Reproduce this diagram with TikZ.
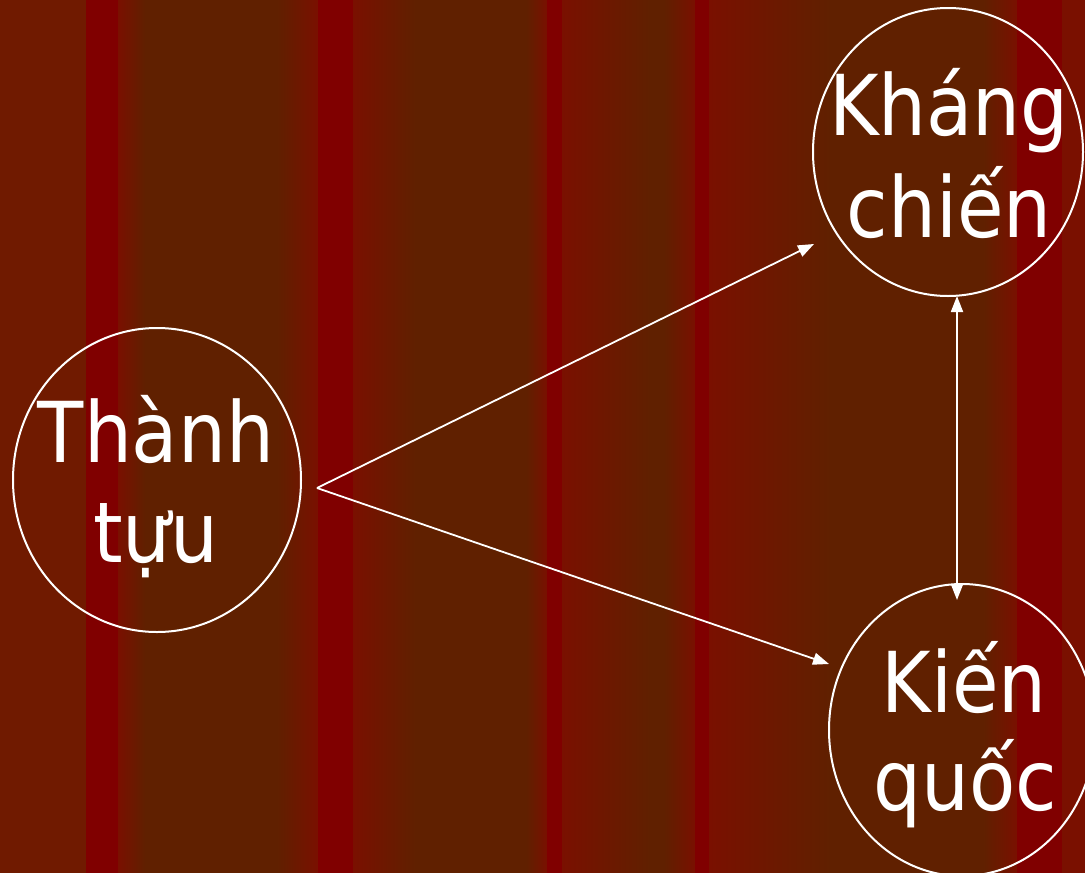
\documentclass[tikz,border=0pt]{standalone}
\usepackage{fontspec}
\setmainfont{DejaVu Sans Condensed}
\usetikzlibrary{arrows.meta,shapes.geometric}
\definecolor{rd}{RGB}{128,0,0}
\definecolor{br}{RGB}{96,32,0}
\definecolor{md}{RGB}{112,26,0}
\definecolor{rm}{RGB}{122,16,0}
\begin{document}
\begin{tikzpicture}[x=1pt,y=-1pt,
  bubble/.style={ellipse, draw=white, line width=2pt, inner sep=0pt},
  lbl/.style={text=white, font=\fontsize{84}{100}\selectfont, inner sep=0pt, anchor=base},
  link/.style={draw=white, line width=1.8pt, -{Triangle[length=16pt,width=12pt]}},
  dlink/.style={draw=white, line width=1.8pt, {Triangle[length=16pt,width=12pt]}-{Triangle[length=16pt,width=12pt]}}]
\useasboundingbox (0,0) rectangle (1085,873);
\clip (0,0) rectangle (1085,873);
% background stripes
\fill[br] (0,0) rectangle (1085,873);
\fill[md] (0,0) rectangle (86,873);
\fill[rd] (86,0) rectangle (118,873);
\shade[left color=rm,right color=br] (118,0) rectangle (145.5,873);
\shade[left color=br,right color=rm] (277,0) rectangle (318.5,873);
\fill[rd] (318,0) rectangle (353,873);
\shade[left color=rm,right color=br] (353,0) rectangle (415.5,873);
\shade[left color=br,right color=rm] (526,0) rectangle (547.5,873);
\fill[rd] (547,0) rectangle (562,873);
\shade[left color=rm,right color=br] (562,0) rectangle (650.5,873);
\shade[left color=br,right color=rm] (664,0) rectangle (695.5,873);
\fill[rd] (695,0) rectangle (709,873);
\shade[left color=rm,right color=br] (709,0) rectangle (830.5,873);
\shade[left color=br,right color=rm] (983,0) rectangle (1017.5,873);
\fill[rd] (1017,0) rectangle (1062,873);
\fill[rm] (1062,0) rectangle (1085,873);
% circles
\node[bubble, minimum width=288pt, minimum height=304pt] (tt) at (157,480) {};
\node[bubble, minimum width=270pt, minimum height=288pt] (kc) at (948,152) {};
\node[bubble, minimum width=266pt, minimum height=292pt] (kq) at (962,730) {};
% labels
\node[lbl] (tt1) at (156,462) {Thành};
\node[lbl] (tt2) at (156,562) {tựu};
\node[lbl] (kc1) at (949,135) {Kháng};
\node[lbl] (kc2) at (949,237) {chiến};
\node[lbl] (kq1) at (964,712) {Kiến};
\node[lbl] (kq2) at (965,810) {quốc};
% connectors
\coordinate (src) at (317,488);
\coordinate (kcin) at (814,244);
\coordinate (kqin) at (829,664);
\coordinate (kcb) at (957,296);
\coordinate (kqt) at (957,600);
\draw[link] (src) -- (kcin);
\draw[link] (src) -- (kqin);
\draw[dlink] (kqt) -- (kcb);
\end{tikzpicture}
\end{document}
